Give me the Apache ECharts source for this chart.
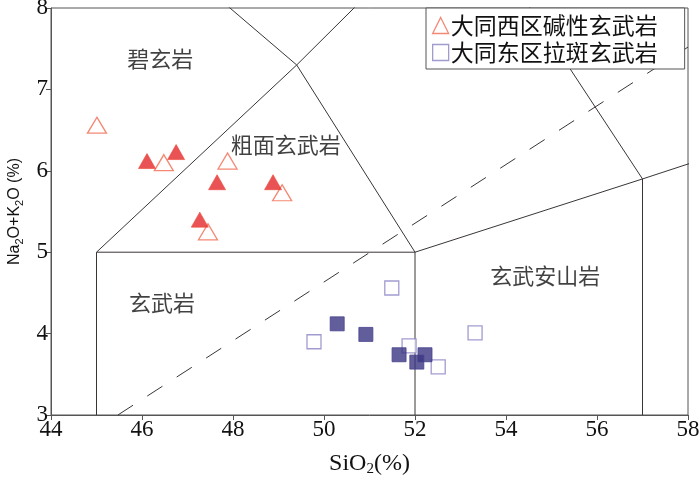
<!DOCTYPE html>
<html><head><meta charset="utf-8">
<script src="https://cdn.jsdelivr.net/npm/echarts@6/dist/echarts.min.js"></script>
<style>html,body{margin:0;padding:0;background:#fff}#c{width:700px;height:482px}</style>
</head><body><div id="c"></div>
<script>
// x ticks / y ticks
const xTicks = [44, 46, 48, 50, 52, 54, 56, 58];
const yTicks = [3, 4, 5, 6, 7, 8];
// Series data [SiO2, Na2O+K2O]
const westOpen = [[45.01, 6.56], [46.48, 6.10], [47.88, 6.12], [49.08, 5.73], [47.45, 5.25]];
const westFilled = [[46.11, 6.12], [46.75, 6.23], [47.65, 5.86], [48.88, 5.86], [47.27, 5.40]];
const eastOpen = [[51.49, 4.56], [49.78, 3.90], [51.87, 3.85], [53.32, 4.01], [52.51, 3.59]];
const eastFilled = [[50.29, 4.12], [50.92, 3.99], [51.65, 3.74], [52.22, 3.74], [52.04, 3.65]];
// TAS field boundaries
const bBasalt = [[45, 3], [45, 5], [52, 5], [52, 3]];
const bTrachybasalt = [[45, 5], [49.4, 7.3], [52, 5]];
const bUpperTB = [[49.4, 7.3], [53, 9.3]];
const bTephrite = [[49.4, 7.3], [45, 9.4]];
const bBA = [[52, 5], [57, 5.9], [57, 3]];
const bBTA = [[57, 5.9], [53, 9.3]];
const bAndesite = [[57, 5.9], [63, 7]];
const dashedDivide = [[45.47, 3], [58, 7.52]];
// Field labels
const fieldLabels = [
  {name: '碧玄岩', value: [46.40, 7.38]},
  {name: '粗面玄武岩', value: [49.16, 6.32]},
  {name: '玄武岩', value: [46.44, 4.38]},
  {name: '玄武安山岩', value: [54.86, 4.71]}
];
const legendNames = ['大同西区碱性玄武岩', '大同东区拉斑玄武岩'];

const lineCol = '#3a3535';
function seg(d, dashed) {
  return {type: 'line', data: d, symbol: 'none', silent: true, clip: true, z: 1,
    lineStyle: {color: lineCol, width: 1, type: dashed ? [18, 17] : 'solid'}, animation: false};
}
const red = '#e3282a', redOpen = '#f06a50', blue = '#3b3682', blueOpen = '#8a82c4';
const chart = echarts.init(document.getElementById('c'));
chart.setOption({
  animation: false,
  grid: {left: 51, right: 12, top: 8, bottom: 67, show: true, borderColor: '#555', borderWidth: 1,
    containLabel: false, outerBoundsMode: 'none'},
  xAxis: {type: 'value', min: 44, max: 58, interval: 2, splitLine: {show: false},
    axisLine: {lineStyle: {color: '#555'}}, axisTick: {length: 5, lineStyle: {color: '#555'}},
    axisLabel: {fontFamily: 'Liberation Serif', fontSize: 23, color: '#111', margin: 3,
      formatter: v => xTicks.includes(v) ? String(v) : ''},
    name: '{a|SiO}{s|2}{a|(%)}', nameLocation: 'middle', nameGap: 35,
    nameTextStyle: {fontFamily: 'Liberation Serif', fontSize: 24, color: '#111',
      rich: {a: {fontFamily: 'Liberation Serif', fontSize: 24, color: '#111'},
      s: {fontFamily: 'Liberation Serif', fontSize: 15, color: '#111', padding: [12, 0, 0, 0]}}}},
  yAxis: {type: 'value', min: 3, max: 8, interval: 1, splitLine: {show: false},
    axisLine: {lineStyle: {color: '#555'}}, axisTick: {length: 5, lineStyle: {color: '#555'}},
    axisLabel: {fontFamily: 'Liberation Serif', fontSize: 23, color: '#111', margin: 3,
      formatter: v => yTicks.includes(v) ? String(v) : ''},
    name: '{a|Na}{s|2}{a|O+K}{s|2}{a|O (%)}', nameLocation: 'middle', nameGap: 26, nameRotate: 90,
    nameTextStyle: {fontFamily: 'Liberation Sans', fontSize: 16, color: '#111',
      rich: {a: {fontFamily: 'Liberation Sans', fontSize: 16, color: '#111'},
      s: {fontFamily: 'Liberation Sans', fontSize: 11, color: '#111', padding: [9, 0, 0, 0]}}}},
  legend: {left: 426, top: 8, orient: 'vertical', backgroundColor: '#fff', borderColor: '#555', borderWidth: 1,
    padding: [6, 27, 5, 6], itemGap: 4, itemWidth: 16, itemHeight: 16,
    textStyle: {fontFamily: 'Noto Sans CJK SC', fontSize: 23, color: '#111', padding: [0, 0, 0, -3]},
    data: [
      {name: legendNames[0], icon: 'triangle', itemStyle: {color: 'rgba(0,0,0,0)', borderColor: redOpen, borderWidth: 1.3}},
      {name: legendNames[1], icon: 'rect', itemStyle: {color: 'rgba(0,0,0,0)', borderColor: blueOpen, borderWidth: 1.3}}
    ], z: 10},
  series: [
    seg(bBasalt), seg(bTrachybasalt), seg(bUpperTB), seg(bTephrite), seg(bBA), seg(bBTA), seg(bAndesite),
    seg(dashedDivide, true),
    {type: 'scatter', data: fieldLabels, symbol: 'circle', symbolSize: 2, silent: true, z: 2,
      itemStyle: {color: 'rgba(0,0,0,0)'},
      label: {show: true, position: 'inside', formatter: p => p.name, fontFamily: 'Noto Sans CJK SC', fontSize: 22, color: '#111'}},
    {name: legendNames[0], type: 'scatter', data: westOpen, symbol: 'triangle', symbolSize: [19, 16],
      itemStyle: {color: '#fff', borderColor: redOpen, borderWidth: 1.3}, z: 3},
    {name: 'wf', type: 'scatter', data: westFilled, symbol: 'triangle', symbolSize: [17, 15],
      itemStyle: {color: red, borderColor: '#ee4a3a', borderWidth: 0.8}, z: 4},
    {name: legendNames[1], type: 'scatter', data: eastOpen, symbol: 'rect', symbolSize: 14,
      itemStyle: {color: '#fff', borderColor: blueOpen, borderWidth: 1.3}, z: 3},
    {name: 'ef', type: 'scatter', data: eastFilled, symbol: 'rect', symbolSize: 14,
      itemStyle: {color: blue, borderColor: '#47428f', borderWidth: 1}, z: 4}
  ]
});
</script></body></html>
